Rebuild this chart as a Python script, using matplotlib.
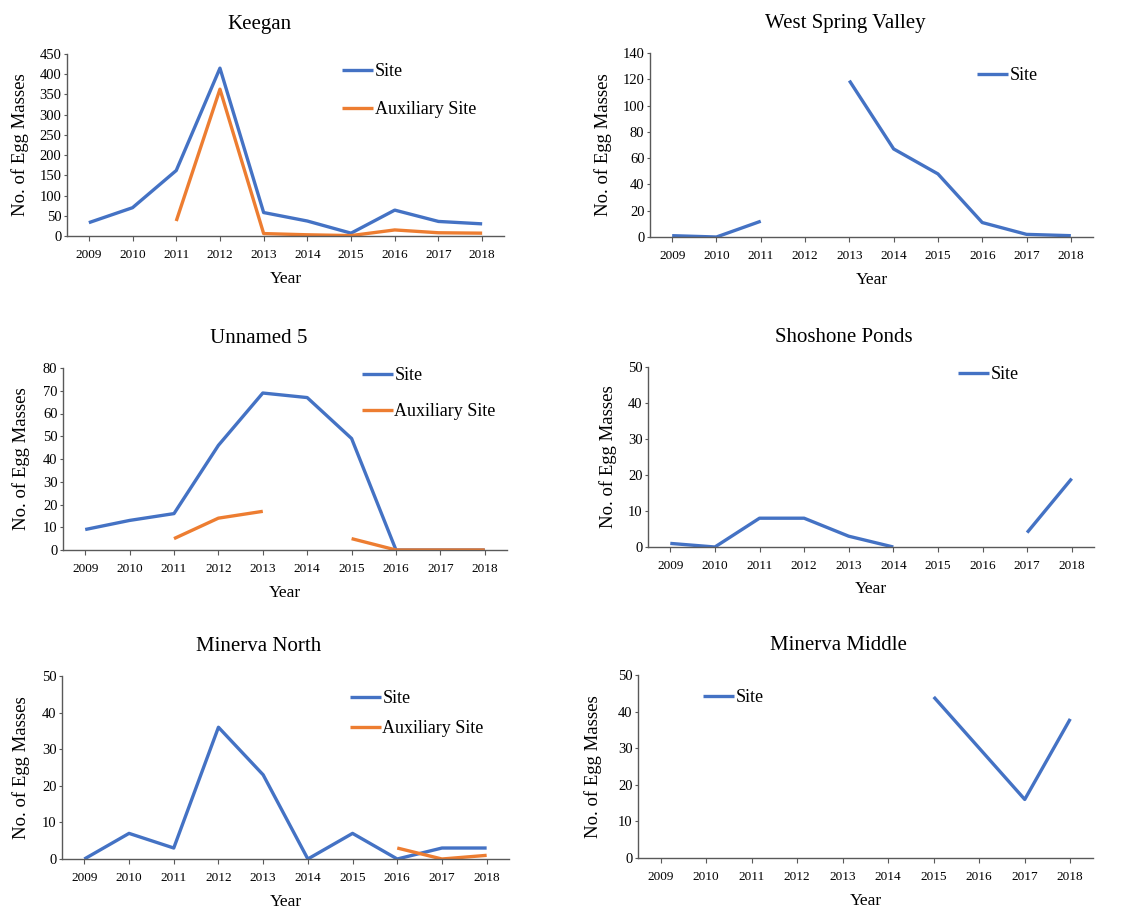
import numpy as np
import matplotlib
matplotlib.use('Agg')
import matplotlib.pyplot as plt

plt.rcParams['font.family'] = ['Liberation Serif', 'DejaVu Serif']

nan = np.nan
years = [2009, 2010, 2011, 2012, 2013, 2014, 2015, 2016, 2017, 2018]

keegan_site = [33, 70, 162, 415, 58, 37, 7, 64, 36, 30]
keegan_aux = [nan, nan, 37, 363, 6, 3, 1, 15, 8, 7]
wsv_site = [1, 0, 12, nan, 119, 67, 48, 11, 2, 1]
unnamed_site = [9, 13, 16, 46, 69, 67, 49, 0, 0, 0]
unnamed_aux = [nan, nan, 5, 14, 17, nan, 5, 0, 0, 0]
shoshone_site = [1, 0, 8, 8, 3, 0, nan, nan, 4, 19]
mnorth_site = [0, 7, 3, 36, 23, 0, 7, 0, 3, 3]
mnorth_aux = [nan, nan, nan, nan, nan, nan, nan, 3, 0, 1]
mmiddle_site = [nan, nan, nan, nan, nan, nan, 44, 30, 16, 38]

blue = '#4472C4'
orange = '#ED7D31'
W, H = 1133, 911

# name, site, aux, ymax, ystep, axes px (left, top, right, bottom),
# legend anchor (x, y), labelspacing, ylabel x
panels = [
    ('Keegan', keegan_site, keegan_aux, 450, 50, (67, 54, 504, 236), (0.63, 0.95), 1.15, -0.108),
    ('West Spring Valley', wsv_site, None, 140, 20, (650, 53, 1093, 237), (0.738, 0.922), 1.0, -0.107),
    ('Unnamed 5', unnamed_site, unnamed_aux, 80, 10, (63, 368, 507, 550), (0.673, 1.004), 1.05, -0.094),
    ('Shoshone Ponds', shoshone_site, None, 50, 10, (648, 367, 1094, 547), (0.695, 1.004), 1.0, -0.089),
    ('Minerva North', mnorth_site, mnorth_aux, 50, 10, (62, 676, 509, 859), (0.644, 0.922), 0.72, -0.091),
    ('Minerva Middle', mmiddle_site, None, 50, 10, (638, 675, 1093, 858), (0.143, 0.922), 1.0, -0.098),
]

fig = plt.figure(figsize=(W / 100, H / 100), dpi=100)

for name, site, aux, ymax, ystep, box, leg_xy, lsp, ylx in panels:
    l, t, r, b = box
    ax = fig.add_axes([l / W, 1 - b / H, (r - l) / W, (b - t) / H])
    ax.plot(years, site, color=blue, lw=2.4, label='Site', solid_capstyle='butt')
    if aux is not None:
        ax.plot(years, aux, color=orange, lw=2.4, label='Auxiliary Site', solid_capstyle='butt')
    ax.set_xlim(2008.5, 2018.5)
    ax.set_ylim(0, ymax)
    ax.set_xticks(years)
    ax.set_yticks(np.arange(0, ymax + 1, ystep))
    for s in ['top', 'right']:
        ax.spines[s].set_visible(False)
    for s in ['left', 'bottom']:
        ax.spines[s].set_color('#595959')
        ax.spines[s].set_linewidth(1.0)
    ax.tick_params(axis='x', length=3.5, width=0.8, color='#595959', labelsize=9.5, pad=6)
    ax.tick_params(axis='y', length=2.5, width=0.8, color='#595959', labelsize=10.5, pad=1.5)
    ax.set_title(name, fontsize=15, x=0.44, pad=18)
    ax.set_xlabel('Year', fontsize=12.5)
    ax.set_ylabel('No. of Egg Masses', fontsize=13.5)
    ax.xaxis.label.set_va('center')
    ax.yaxis.label.set_va('center')
    ax.xaxis.set_label_coords(0.5, -0.235)
    ax.yaxis.set_label_coords(ylx, 0.5)
    ax.legend(loc='upper left', bbox_to_anchor=leg_xy, frameon=False, fontsize=13,
              handlelength=1.7, handletextpad=0.1, borderpad=0, borderaxespad=0,
              labelspacing=lsp)

fig.savefig('out.png', dpi=100)
